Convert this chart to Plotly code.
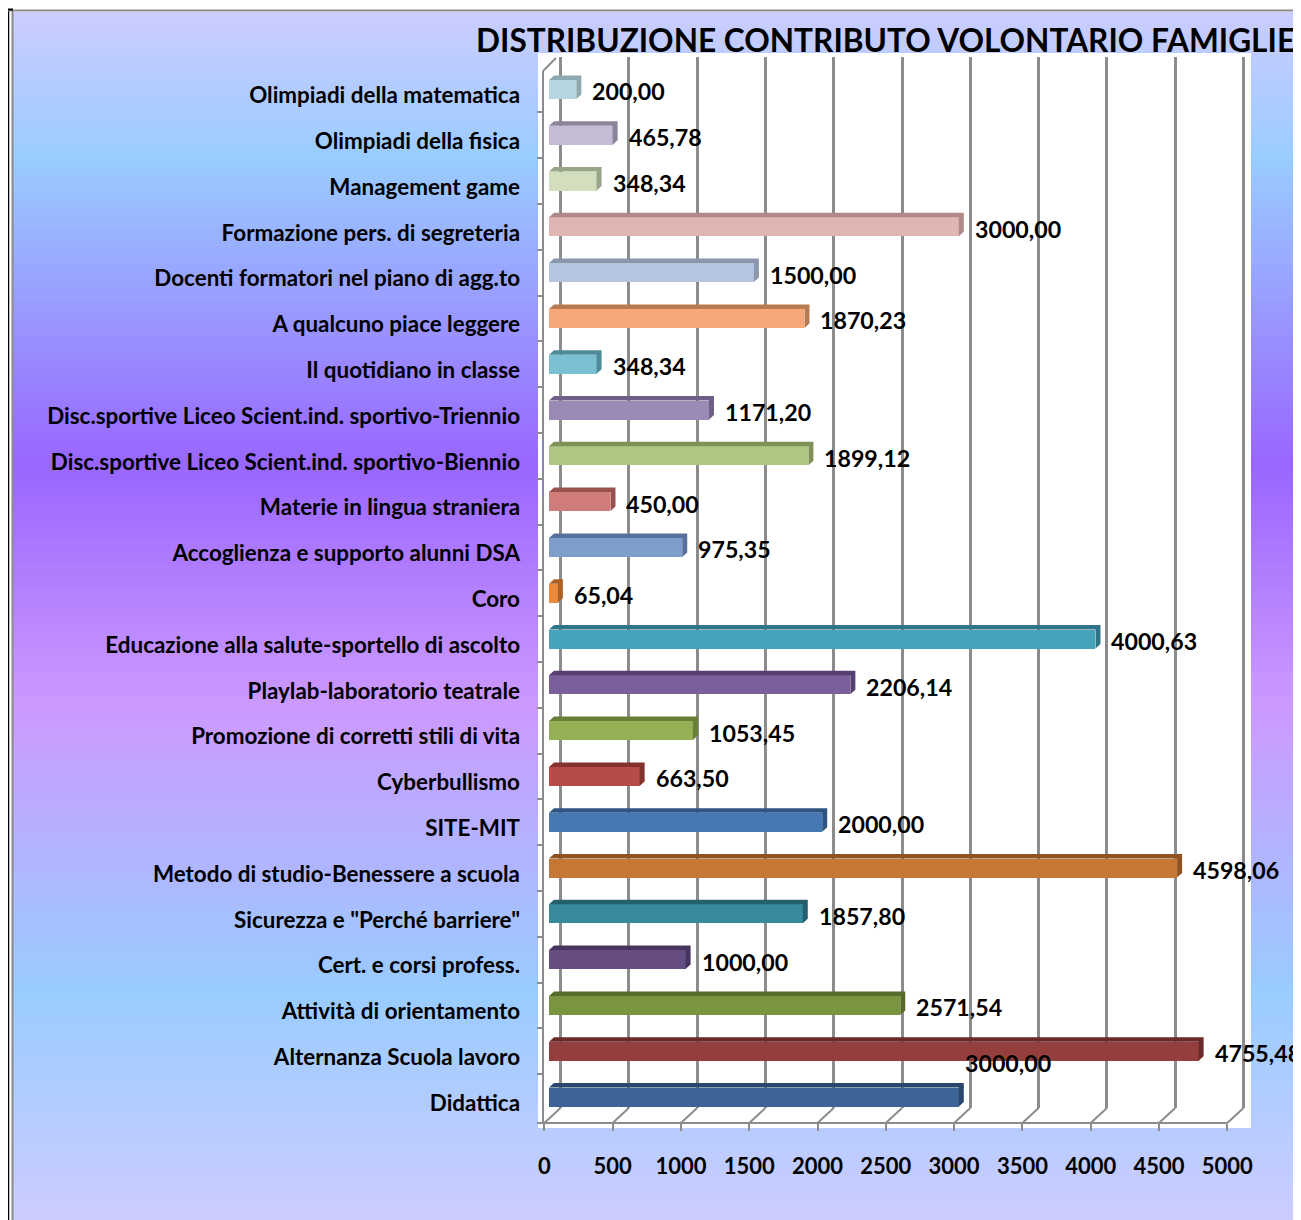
import plotly.graph_objects as go

# ---------------- data ----------------
categories = [
    "Didattica",
    "Alternanza Scuola lavoro",
    "Attività di orientamento",
    "Cert. e corsi profess.",
    'Sicurezza e "Perché barriere"',
    "Metodo di studio-Benessere a scuola",
    "SITE-MIT",
    "Cyberbullismo",
    "Promozione di corretti stili di vita",
    "Playlab-laboratorio teatrale",
    "Educazione alla salute-sportello di ascolto",
    "Coro",
    "Accoglienza e supporto alunni DSA",
    "Materie in lingua straniera",
    "Disc.sportive Liceo Scient.ind. sportivo-Biennio",
    "Disc.sportive Liceo Scient.ind. sportivo-Triennio",
    "Il quotidiano in classe",
    "A qualcuno piace leggere",
    "Docenti formatori nel piano di agg.to",
    "Formazione pers. di segreteria",
    "Management game",
    "Olimpiadi della fisica",
    "Olimpiadi della matematica",
]
values = [3000.00, 4755.48, 2571.54, 1000.00, 1857.80, 4598.06, 2000.00, 663.50,
          1053.45, 2206.14, 4000.63, 65.04, 975.35, 450.00, 1899.12, 1171.20,
          348.34, 1870.23, 1500.00, 3000.00, 348.34, 465.78, 200.00]
front_colors = ["#3D6496", "#943F3E", "#7A9540", "#654D81", "#388A9D", "#C67635",
                "#4679B4", "#B64B48", "#94B255", "#7A5F9A", "#46A3BB", "#E98B3C",
                "#7F9DCB", "#CF7C7A", "#AFC784", "#9B8AB6", "#7ABFD2", "#F6A878",
                "#B5C5E0", "#E0B5B4", "#D3DEBE", "#C5BBD5", "#B4D7E1"]
side_colors = ["#2A466D", "#6A2A29", "#566A2B", "#47345D", "#255F6E", "#8F5220",
               "#2F5483", "#843230", "#687F37", "#563F73", "#2F7487", "#AC6226",
               "#56709B", "#99514F", "#7E9258", "#6E5F88", "#4E8A9B", "#B87A50",
               "#8A97AD", "#B08A89", "#98A588", "#8D8499", "#8FA9B0"]
x_ticks = [0, 500, 1000, 1500, 2000, 2500, 3000, 3500, 4000, 4500, 5000]
title_text = "DISTRIBUZIONE CONTRIBUTO VOLONTARIO FAMIGLIE"

# ---------------- layout geometry (screen pixels) ----------------
W, H = 1301, 1220
OFF = 8                   # page body margin
L, R, T, B = 537, 1251, 53, 1128
SCALE = 0.1366            # px per unit
ZERO_BAR = 549            # bar plane
ZERO_BACK = 560.5         # back wall
ZERO_FRONT = 544.3        # front floor edge
FLOOR_FRONT_Y = 1123
FLOOR_BACK_Y = 1108
WALL_X = 543
ROW_PX = 45.8
ROW0_PX = 1097

def px_x(p):
    return (p - L) / (R - L)

def px_y(p):
    return (B - p) / (B - T)

def xrange_for(zero_px):
    return [(L - zero_px) / SCALE, (R - zero_px) / SCALE]

y_lo = (ROW0_PX - B) / ROW_PX
y_hi = (ROW0_PX - T) / ROW_PX

FONT = "Lato"
GRID = "#8C8C8C"

idx = list(range(len(categories)))
bar_h = 19 / ROW_PX
top_e = 4.5 / ROW_PX
side_d = 5 / SCALE

fig = go.Figure()

fig.add_trace(go.Scatter(x=[None], y=[None], xaxis="x", yaxis="y",
                         showlegend=False, hoverinfo="skip"))

# 3D top+side faces of each bar
for i, v in enumerate(values):
    yb = i - bar_h / 2
    yt = i + bar_h / 2
    xs = [0, v, v, v + side_d, v + side_d, side_d, 0]
    ys = [yt, yt, yb, yb + top_e, yt + top_e, yt + top_e, yt]
    fig.add_trace(go.Scatter(x=xs, y=ys, xaxis="x2", yaxis="y2", mode="lines",
                             fill="toself", fillcolor=side_colors[i],
                             line=dict(width=0, color=side_colors[i]),
                             showlegend=False, hoverinfo="skip"))

# front faces
fig.add_trace(go.Bar(x=values, y=idx, orientation="h", width=bar_h,
                     marker=dict(color=front_colors, line=dict(width=0)),
                     xaxis="x2", yaxis="y2", showlegend=False, hoverinfo="skip"))

fig.add_trace(go.Scatter(x=[None], y=[None], xaxis="x3", yaxis="y2",
                         showlegend=False, hoverinfo="skip"))

# ---------------- background shapes ----------------
shapes = []
stops = [(12, "#CCCCFF"), (160, "#99CCFF"), (465, "#9966FF"), (705, "#CC99FF"),
         (990, "#99CCFF"), (1220, "#CCCCFF")]

def hex2rgb(h):
    h = h.lstrip("#")
    return [int(h[k:k + 2], 16) for k in (0, 2, 4)]

def grad_color(p):
    for (p0, c0), (p1, c1) in zip(stops[:-1], stops[1:]):
        if p0 <= p <= p1:
            t = (p - p0) / (p1 - p0)
            a, b = hex2rgb(c0), hex2rgb(c1)
            return "rgb(%d,%d,%d)" % tuple(round(a[k] + (b[k] - a[k]) * t) for k in range(3))
    return stops[-1][1]

band = 6
p = 12
while p < H + 10:
    shapes.append(dict(type="rect", xref="paper", yref="paper", layer="below",
                       x0=px_x(12), x1=px_x(W + 12), y0=px_y(p), y1=px_y(p + band + 1),
                       fillcolor=grad_color(p + band / 2), line=dict(width=0)))
    p += band

shapes.append(dict(type="rect", xref="paper", yref="paper", layer="below",
                   x0=px_x(538), x1=px_x(1251), y0=px_y(1128), y1=px_y(53),
                   fillcolor="white", line=dict(width=0)))

# outer frame
shapes.append(dict(type="line", xref="paper", yref="paper", x0=px_x(8), x1=px_x(8),
                   y0=px_y(9), y1=px_y(H + 15), line=dict(color="black", width=2.5)))
shapes.append(dict(type="line", xref="paper", yref="paper", x0=px_x(12.5), x1=px_x(12.5),
                   y0=px_y(11), y1=px_y(H + 15), line=dict(color="#8A8A8A", width=2)))
shapes.append(dict(type="line", xref="paper", yref="paper", x0=px_x(7), x1=px_x(W + 15),
                   y0=px_y(10.5), y1=px_y(10.5), line=dict(color="#8A8A8A", width=2)))
shapes.append(dict(type="line", xref="paper", yref="paper", x0=px_x(7), x1=px_x(13),
                   y0=px_y(9.5), y1=px_y(9.5), line=dict(color="black", width=2)))

# left wall
shapes.append(dict(type="line", xref="paper", yref="paper", x0=px_x(WALL_X), x1=px_x(WALL_X),
                   y0=px_y(FLOOR_FRONT_Y), y1=px_y(71), line=dict(color=GRID, width=2)))
shapes.append(dict(type="line", xref="paper", yref="paper", x0=px_x(WALL_X), x1=px_x(556),
                   y0=px_y(71), y1=px_y(58), line=dict(color=GRID, width=2)))
# floor front edge
shapes.append(dict(type="line", xref="paper", yref="paper", x0=px_x(537),
                   x1=px_x(ZERO_FRONT + x_ticks[-1] * SCALE),
                   y0=px_y(FLOOR_FRONT_Y), y1=px_y(FLOOR_FRONT_Y), line=dict(color=GRID, width=2)))
# floor diagonals
for t in x_ticks:
    shapes.append(dict(type="line", xref="paper", yref="paper",
                       x0=px_x(ZERO_FRONT + t * SCALE), x1=px_x(ZERO_BACK + t * SCALE),
                       y0=px_y(FLOOR_FRONT_Y), y1=px_y(FLOOR_BACK_Y),
                       line=dict(color=GRID, width=2)))

# ---------------- annotations ----------------
annotations = []
for i, v in enumerate(values):
    txt = f"{v:.2f}".replace(".", ",")
    xs, ys = 14, -2
    if i == 0:
        xs, ys = 4, 34
    annotations.append(dict(x=v, y=i, xref="x2", yref="y2", text=txt, showarrow=False,
                            xanchor="left", yanchor="middle", xshift=xs, yshift=ys,
                            font=dict(family=FONT, size=23.2, color="black", weight="bold")))
annotations.append(dict(x=px_x(1297), y=px_y(40), xref="paper", yref="paper", text=title_text,
                        showarrow=False, xanchor="right", yanchor="middle",
                        font=dict(family=FONT, size=31.6, color="black", weight="bold")))

fig.update_layout(
    width=W, height=H, autosize=False,
    margin=dict(l=L - OFF, r=W - (R - OFF), t=T - OFF, b=H - (B - OFF), pad=0),
    paper_bgcolor="white", plot_bgcolor="rgba(0,0,0,0)",
    showlegend=False, bargap=0,
    shapes=shapes, annotations=annotations,
    xaxis=dict(domain=[0, 1], anchor="y", range=xrange_for(ZERO_BACK), tickmode="array",
               tickvals=x_ticks, showgrid=True, gridcolor=GRID, gridwidth=2.5,
               showticklabels=False, ticks="", zeroline=False, showline=False, fixedrange=True),
    yaxis=dict(domain=[px_y(FLOOR_BACK_Y), px_y(57)], anchor="x", range=[0, 1],
               visible=False, fixedrange=True),
    xaxis2=dict(domain=[0, 1], anchor="y2", range=xrange_for(ZERO_BAR), visible=False,
                fixedrange=True),
    yaxis2=dict(domain=[0, 1], anchor="free", position=px_x(WALL_X), range=[y_lo, y_hi],
                tickmode="array", tickvals=idx, ticktext=categories, ticks="",
                showgrid=False, zeroline=False, showline=False,
                ticklabelstandoff=23, ticklabelshift=6,
                tickfont=dict(family=FONT, size=22.4, color="black", weight="bold"),
                minor=dict(tickmode="array", tickvals=[k + 0.5 for k in idx[:-1]],
                           ticks="outside", ticklen=6, tickwidth=2, tickcolor=GRID,
                           showgrid=False),
                fixedrange=True),
    xaxis3=dict(overlaying="x2", anchor="free", position=px_y(FLOOR_FRONT_Y),
                range=xrange_for(ZERO_FRONT), tickmode="array", tickvals=x_ticks,
                ticktext=[str(t) for t in x_ticks], ticks="outside", ticklen=7, tickwidth=2,
                tickcolor=GRID, showgrid=False, zeroline=False, showline=False,
                ticklabelstandoff=17,
                tickfont=dict(family=FONT, size=22, color="black", weight="bold"),
                fixedrange=True),
)

fig.write_html("out.html")
